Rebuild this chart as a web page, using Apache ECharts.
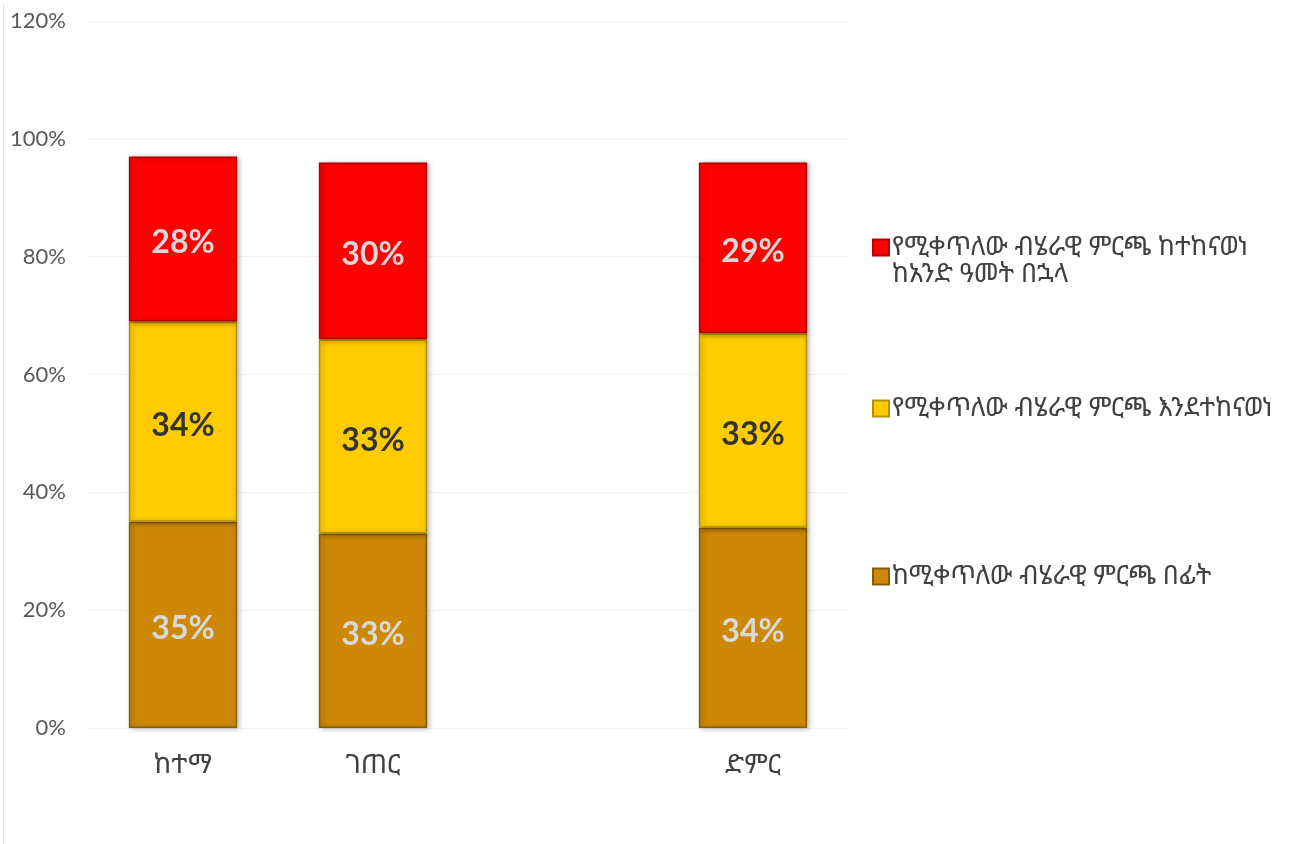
<!DOCTYPE html>
<html>
<head>
<meta charset="utf-8">
<script src="https://cdn.jsdelivr.net/npm/echarts@6/dist/echarts.min.js"></script>
<style>
html,body{margin:0;padding:0;background:#fff;}
#c{width:1307px;height:844px;}
</style>
</head>
<body>
<div id="c"></div>
<script>
const categories = ['ከተማ', 'ገጠር', '', 'ድምር'];
const seriesNames = [
  'ከሚቀጥለው ብሄራዊ ምርጫ በፊት',
  'የሚቀጥለው ብሄራዊ ምርጫ እንደተከናወነ',
  'የሚቀጥለው ብሄራዊ ምርጫ ከተከናወነ\nከአንድ ዓመት በኋላ'
];
const beforeVals = [35, 33, null, 34];
const duringVals = [34, 33, null, 33];
const afterVals = [28, 30, null, 29];
const yTicks = [0, 20, 40, 60, 80, 100, 120];

const ethFont = "'Noto Sans Ethiopic','Abyssinica SIL','DejaVu Sans','Noto Sans',sans-serif";
const numFont = "Lato, 'Open Sans', sans-serif";
const colors = ['#CC8806', '#FFCC00', '#FF0000'];
const borders = ['#8a5c00', '#b38f00', '#b30000'];
const labelColors = ['#D9D9D9', '#333333', '#D9D9D9'];
const dataSets = [beforeVals, duringVals, afterVals];

const chart = echarts.init(document.getElementById('c'), null, {renderer: 'canvas'});

const series = dataSets.map((d, i) => ({
  name: seriesNames[i],
  type: 'bar',
  stack: 'total',
  barWidth: '57%',
  data: d,
  itemStyle: {
    color: colors[i],
    borderColor: borders[i],
    borderWidth: 1.5,
    shadowColor: 'rgba(0,0,0,0.3)',
    shadowBlur: 5,
    shadowOffsetX: 2,
    shadowOffsetY: 1
  },
  label: {
    show: true,
    position: 'inside',
    offset: [0, 4],
    formatter: p => p.value + '%',
    color: labelColors[i],
    fontFamily: numFont,
    fontWeight: 'bold',
    fontSize: 32
  }
}));

const legendTops = [558, 390, 202];
const legends = seriesNames.map((n, i) => ({
  data: [n],
  left: 867,
  top: legendTops[i],
  orient: 'vertical',
  itemWidth: 16,
  itemHeight: 16,
  icon: 'rect',
  itemGap: 0,
  formatter: name => (i === 2 ? '\n' + name : name),
  textStyle: {
    fontFamily: ethFont,
    fontSize: 26,
    color: '#404040',
    lineHeight: 27,
    padding: [0, 0, 0, -2]
  },
  selectedMode: false
}));

chart.setOption({
  animation: false,
  backgroundColor: '#ffffff',
  grid: {left: 88, right: 1307 - 848, top: 21, bottom: 844 - 728, containLabel: false},
  legend: legends,
  xAxis: {
    type: 'category',
    data: categories,
    axisLine: {show: true, lineStyle: {color: '#F2F2F2', width: 1}},
    axisTick: {show: false},
    axisLabel: {
      fontFamily: ethFont,
      fontSize: 27,
      color: '#404040',
      margin: 24
    }
  },
  yAxis: {
    type: 'value',
    min: 0,
    max: 120,
    interval: 20,
    axisLine: {show: false},
    axisTick: {show: false},
    splitLine: {lineStyle: {color: '#F2F2F2', width: 1}},
    axisLabel: {
      formatter: v => v + '%',
      fontFamily: numFont,
      fontSize: 22,
      color: '#595959',
      margin: 22
    }
  },
  series: series,
  graphic: [{
    type: 'line',
    shape: {x1: 3.5, y1: 5, x2: 3.5, y2: 844},
    style: {stroke: '#FFEE33', lineWidth: 1}
  }]
});
</script>
</body>
</html>
